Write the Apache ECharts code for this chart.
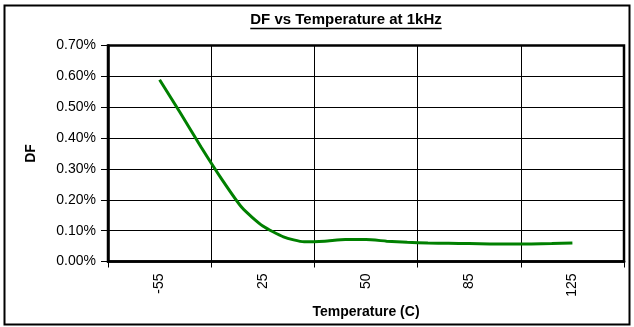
<!DOCTYPE html>
<html>
<head>
<meta charset="utf-8">
<script src="https://cdn.jsdelivr.net/npm/echarts@6/dist/echarts.min.js"></script>
<style>
  html, body { margin: 0; padding: 0; background: #fff; }
  #chart { width: 634px; height: 327px; }
</style>
</head>
<body>
<div id="chart"></div>
<script>
// Temperature labels shown under the axis (one band each)
const tempLabels = ['-55', '25', '50', '85', '125'];
// Sample points per temperature band along the curve
const samplesPerBand = 5;
// Dissipation factor (%) sampled from the -55 band centre to the 125 band centre
const dfPercent = [
  0.589, 0.482, 0.372, 0.268, 0.174, 0.115, 0.080, 0.064, 0.066, 0.071,
  0.071, 0.066, 0.062, 0.060, 0.059, 0.058, 0.057, 0.057, 0.057, 0.058, 0.060
];
// Y axis ticks (%)
const dfTicks = [0, 0.1, 0.2, 0.3, 0.4, 0.5, 0.6, 0.7];

const FONT = 'Liberation Sans, Arial, sans-serif';

// Fine slot axis: pad before the first band centre and after the last one
const pad = Math.floor(samplesPerBand / 2);
const slotCount = tempLabels.length * samplesPerBand;
const slotNames = Array.from({ length: slotCount }, (_, i) => 's' + i);
const slotValues = Array.from({ length: slotCount }, (_, i) => {
  const k = i - pad;
  return k >= 0 && k < dfPercent.length ? dfPercent[k] : null;
});

const chart = echarts.init(document.getElementById('chart'), null, { renderer: 'canvas' });

const titleText = 'DF vs Temperature at 1kHz';
const titleFont = 'bold 15px ' + FONT;
const titleWidth = echarts.format.getTextRect
  ? echarts.format.getTextRect(titleText, titleFont).width
  : 196;
const titleCx = 346;

chart.setOption({
  animation: false,
  backgroundColor: '#fff',
  grid: {
    left: 108, right: 10, top: 45.5, bottom: 65.5,
    show: true, borderColor: '#000', borderWidth: 2.5, backgroundColor: 'transparent'
  },
  xAxis: [
    {
      type: 'category',
      data: tempLabels,
      boundaryGap: true,
      name: 'Temperature (C)',
      nameLocation: 'middle',
      nameGap: 43,
      nameTextStyle: { fontFamily: FONT, fontWeight: 'bold', fontSize: 14, color: '#000' },
      axisLine: { show: true, lineStyle: { color: '#000', width: 2.5 } },
      axisTick: { show: true, inside: false, length: 6, interval: 0, lineStyle: { color: '#000', width: 1 } },
      axisLabel: {
        rotate: 90, interval: 0, margin: 12,
        fontFamily: FONT, fontSize: 14, color: '#000'
      },
      splitLine: { show: true, interval: 0, lineStyle: { color: '#000', width: 1 } }
    },
    {
      type: 'category',
      data: slotNames,
      boundaryGap: true,
      show: false,
      position: 'bottom'
    }
  ],
  yAxis: {
    type: 'value',
    min: dfTicks[0],
    max: dfTicks[dfTicks.length - 1],
    interval: 0.1,
    name: 'DF',
    nameLocation: 'middle',
    nameGap: 70,
    nameRotate: 90,
    nameTextStyle: { fontFamily: FONT, fontWeight: 'bold', fontSize: 14, color: '#000' },
    axisLine: { show: true, lineStyle: { color: '#000', width: 2.5 } },
    axisTick: { show: true, length: 7, lineStyle: { color: '#000', width: 1 } },
    axisLabel: {
      margin: 12,
      fontFamily: FONT, fontSize: 14, color: '#000',
      formatter: v => v.toFixed(2) + '%'
    },
    splitLine: { show: true, lineStyle: { color: '#000', width: 1 } }
  },
  series: [{
    type: 'line',
    xAxisIndex: 1,
    data: slotValues,
    showSymbol: false,
    symbol: 'none',
    connectNulls: false,
    smooth: 0.2,
    lineStyle: { color: '#008000', width: 3 },
    z: 5
  }],
  graphic: [
    {
      type: 'rect',
      shape: { x: 4.5, y: 5.5, width: 625, height: 319 },
      style: { fill: 'none', stroke: '#000', lineWidth: 2 },
      silent: true
    },
    {
      type: 'text',
      x: titleCx, y: 20,
      style: {
        text: titleText,
        font: titleFont,
        fill: '#000',
        align: 'center',
        verticalAlign: 'middle'
      }
    },
    {
      type: 'line',
      shape: { x1: titleCx - titleWidth / 2, y1: 28.5, x2: titleCx + titleWidth / 2, y2: 28.5 },
      style: { stroke: '#000', lineWidth: 1.5 }
    }
  ]
});
</script>
</body>
</html>
